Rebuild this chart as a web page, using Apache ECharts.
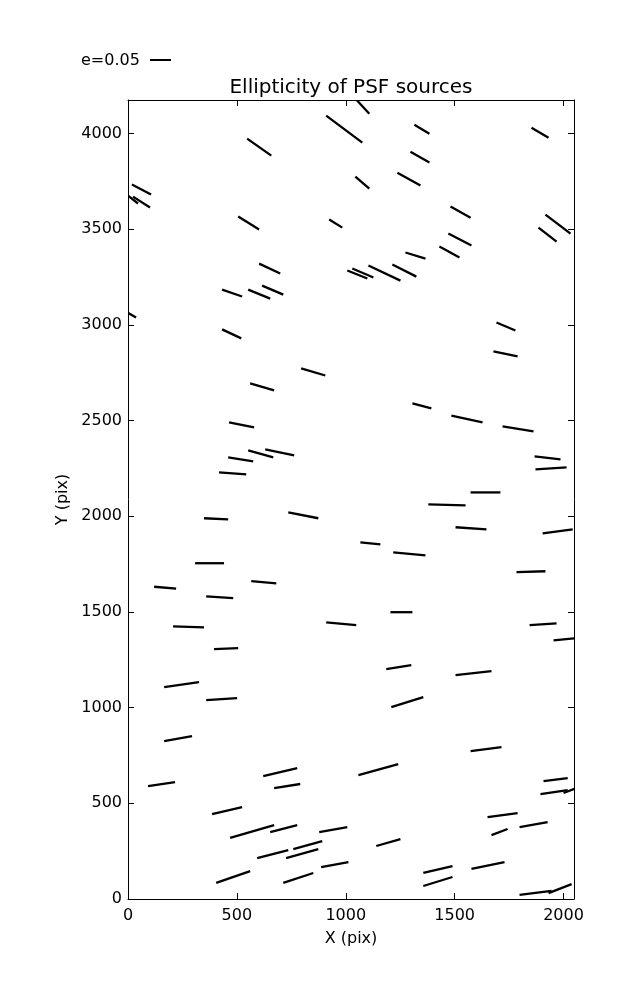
<!DOCTYPE html>
<html>
<head>
<meta charset="utf-8">
<script src="https://cdn.jsdelivr.net/npm/echarts@6/dist/echarts.min.js"></script>
<style>html,body{margin:0;padding:0;background:#fff;}#chart{width:637px;height:1000px;}</style>
</head>
<body>
<div id="chart"></div>
<script>
// Whisker segments (PSF ellipticity), endpoints in pixel-frame data units
var segX0 = [1050,547,910,1315,1853,1297,18,-10,23,506,924,1044,1237,1481,1471,1430,1917,1885,602,1274,1007,1030,1104,1214,432,552,616,-10,432,1692,1678,795,561,1306,1485,464,1720,552,630,460,1867,1871,418,1573,1379,736,349,1504,1904,1067,1218,308,1784,566,120,359,1205,910,1844,207,1954,395,1186,1504,166,359,1209,1573,166,621,1058,1908,92,671,1894,2000,386,1651,1798,469,653,878,1669,759,726,1140,593,1356,887,1577,713,405,1356,1798,1931];
var segY0 = [4176,3974,4094,4047,4031,3906,3734,3685,3671,3567,3551,3776,3796,3619,3478,3410,3577,3509,3321,3379,3285,3295,3311,3316,3185,3185,3206,3070,2977,3013,2862,2773,2695,2590,2527,2491,2470,2345,2350,2308,2313,2245,2230,2125,2063,2021,1990,1943,1911,1864,1812,1755,1708,1661,1632,1582,1499,1446,1431,1425,1352,1306,1201,1170,1107,1039,1003,773,825,642,648,616,590,580,548,554,444,428,376,319,350,350,334,261,214,277,214,136,167,157,84,84,68,21,31];
var segX1 = [1108,658,1076,1384,1931,1384,106,46,101,602,984,1108,1343,1573,1577,1522,2032,1968,699,1366,1099,1127,1251,1324,524,653,713,37,520,1779,1789,906,671,1393,1628,579,1862,667,763,575,1986,2014,543,1710,1550,874,460,1646,2042,1159,1366,441,1917,681,221,483,1306,1048,1968,349,2060,506,1301,1669,326,501,1356,1715,294,777,1241,2019,216,791,2019,2070,524,1789,1927,671,777,1007,1743,892,874,1251,736,1490,1012,1729,851,561,1490,1945,2037];
var segY1 = [4104,3885,3953,4000,3979,3849,3682,3635,3614,3499,3509,3713,3729,3561,3415,3353,3478,3436,3269,3347,3243,3248,3232,3253,3149,3138,3159,3039,2930,2971,2836,2736,2658,2564,2491,2465,2444,2308,2319,2287,2298,2256,2219,2125,2057,1990,1984,1932,1932,1854,1796,1755,1713,1650,1622,1572,1499,1431,1441,1420,1364,1311,1222,1191,1133,1050,1055,794,851,684,705,632,611,601,569,584,480,449,402,386,386,376,366,303,261,313,256,172,193,193,136,146,115,42,78];

var xTicks = [0, 500, 1000, 1500, 2000];
var yTicks = [0, 500, 1000, 1500, 2000, 2500, 3000, 3500, 4000];
var xMax = 2048, yMax = 4176;
var titleText = 'Ellipticity of PSF sources';
var keyLabel = 'e=0.05';

var FONT = 'DejaVu Sans';
var data = segX0.map(function (v, i) { return [v, segY0[i], segX1[i], segY1[i]]; });

function axisCommon(showLabel, list) {
  return {
    type: 'value', min: 0, interval: 500,
    axisLine: { show: true, onZero: false, lineStyle: { color: '#000', width: 1 } },
    axisTick: { show: true, inside: true, length: 6, customValues: list, lineStyle: { color: '#000', width: 1 } },
    axisLabel: { show: showLabel, color: '#000', fontSize: 16, fontFamily: FONT, customValues: list, formatter: function (v) { return String(v); } },
    splitLine: { show: false }
  };
}

var xB = axisCommon(true, xTicks); xB.max = xMax; xB.position = 'bottom';
xB.axisLabel.margin = 9;
xB.name = 'X (pix)'; xB.nameLocation = 'middle'; xB.nameGap = 32;
xB.nameTextStyle = { color: '#000', fontSize: 16, fontFamily: FONT };
var xT = axisCommon(false, xTicks); xT.max = xMax; xT.position = 'top';
var yL = axisCommon(true, yTicks); yL.max = yMax; yL.position = 'left';
yL.axisLabel.margin = 6;
yL.name = 'Y (pix)'; yL.nameLocation = 'middle'; yL.nameGap = 57;
yL.nameTextStyle = { color: '#000', fontSize: 16, fontFamily: FONT };
var yR = axisCommon(false, yTicks); yR.max = yMax; yR.position = 'right';

var chart = echarts.init(document.getElementById('chart'), null, { renderer: 'canvas' });
chart.setOption({
  animation: false,
  backgroundColor: '#fff',
  grid: { left: 128, right: 63, top: 100, bottom: 101, containLabel: false },
  xAxis: [xB, xT],
  yAxis: [yL, yR],
  graphic: [
    { type: 'text', style: { text: titleText, x: 351, y: 88, textAlign: 'center', textVerticalAlign: 'middle', fontSize: 20, fontFamily: FONT, fill: '#000' } },
    { type: 'text', style: { text: keyLabel, x: 81, y: 61, textAlign: 'left', textVerticalAlign: 'middle', fontSize: 16, fontFamily: FONT, fill: '#000' } },
    { type: 'line', shape: { x1: 150, y1: 60, x2: 171, y2: 60 }, style: { stroke: '#000', lineWidth: 2 } }
  ],
  series: [{
    type: 'custom',
    xAxisIndex: 0, yAxisIndex: 0,
    clip: true,
    data: data,
    renderItem: function (params, api) {
      var p0 = api.coord([api.value(0), api.value(1)]);
      var p1 = api.coord([api.value(2), api.value(3)]);
      return { type: 'line', shape: { x1: p0[0], y1: p0[1], x2: p1[0], y2: p1[1] }, style: { stroke: '#000', lineWidth: 2.3, lineCap: 'butt' } };
    }
  }]
});
</script>
</body>
</html>
